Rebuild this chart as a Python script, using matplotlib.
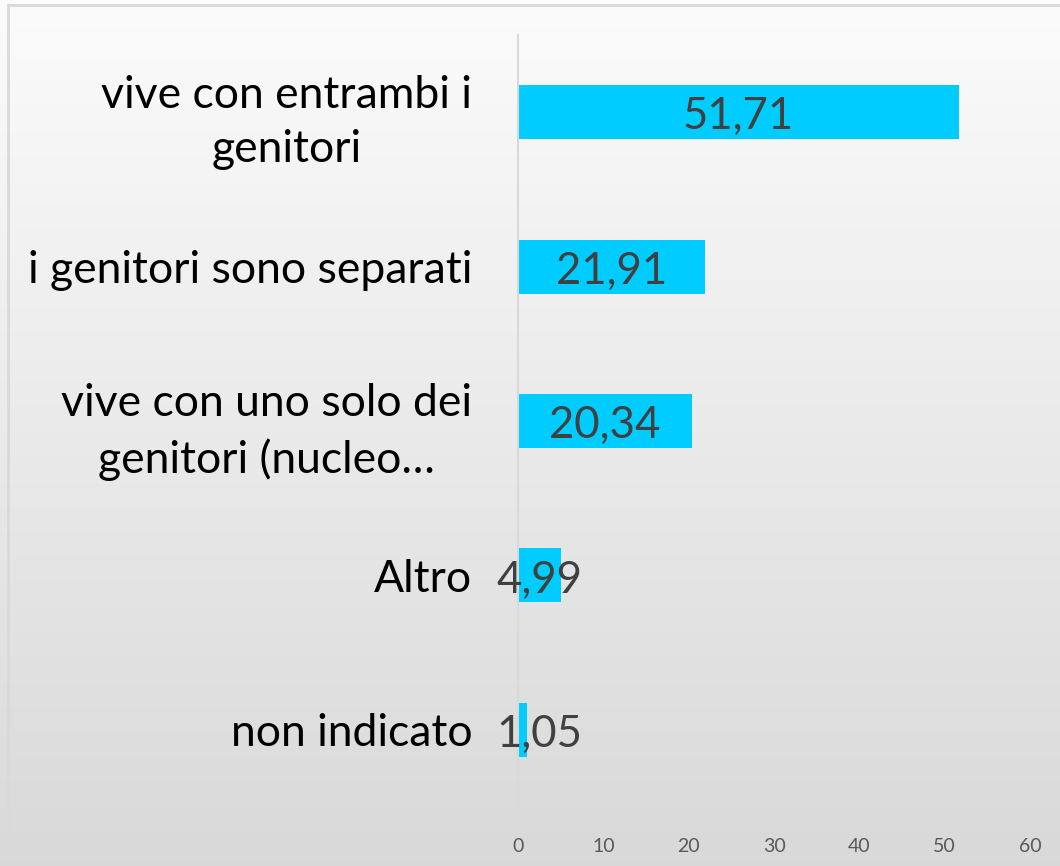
import numpy as np
import matplotlib
matplotlib.use("Agg")
import matplotlib.pyplot as plt
from matplotlib.patches import Rectangle

plt.rcParams['font.family'] = ['Lato', 'DejaVu Sans']

categories = [
    "vive con entrambi i\ngenitori",
    "i genitori sono separati",
    "vive con uno solo dei\ngenitori (nucleo…",
    "Altro",
    "non indicato",
]
values = [51.71, 21.91, 20.34, 4.99, 1.05]
xticks = [0, 10, 20, 30, 40, 50, 60]

W, H = 1060, 866
fig = plt.figure(figsize=(W / 100, H / 100), dpi=100)

# vertical grey gradient background
bg = fig.add_axes([0, 0, 1, 1], zorder=0)
grad = np.linspace(0, 1, 256)[:, None]
top = np.array([0.985, 0.985, 0.985])
bot = np.array([0.85, 0.85, 0.85])
img = top[None, None, :] * (1 - grad[:, :, None]) + bot[None, None, :] * grad[:, :, None]
bg.imshow(img, aspect='auto', extent=[0, 1, 0, 1], origin='upper')
bg.add_patch(Rectangle((8 / W, -0.1), 1.2, 1 - 5 / H + 0.1, fill=False,
                       edgecolor='#d9d9d9', linewidth=2, transform=bg.transAxes))
bg.set_xlim(0, 1)
bg.set_ylim(0, 1)
bg.axis('off')

left, right = 518, 1030
ytop, ybot = 35, 807
ax = fig.add_axes([left / W, 1 - ybot / H, (right - left) / W, (ybot - ytop) / H], zorder=1)
ax.patch.set_alpha(0)

y = np.arange(len(categories))
ax.barh(y, values, height=0.35, color='#00ccff', zorder=2)
ax.set_xlim(0, 60)
ax.set_ylim(len(categories) - 0.5, -0.5)

# value labels centred on the bar, kept from sliding off the axis for tiny bars
for yi, v in zip(y, values):
    ax.text(max(v / 2, 2.55), yi + 0.03, f"{v:.2f}".replace('.', ','),
            ha='center', va='center', fontsize=31.5, color='#404040', zorder=3)

ax.set_yticks(y)
ax.set_yticklabels(categories, fontsize=32, color='#000000', ha='right',
                   multialignment='center', linespacing=1.4)
ax.tick_params(axis='y', length=0, pad=33)
ax.set_xticks(xticks)
ax.set_xticklabels([str(t) for t in xticks], fontsize=14, color='#595959')
ax.tick_params(axis='x', length=0, pad=22)

for s in ['top', 'right', 'bottom']:
    ax.spines[s].set_visible(False)
ax.spines['left'].set_color('#d9d9d9')
ax.spines['left'].set_linewidth(1.5)

fig.savefig('out.png', dpi=100)
